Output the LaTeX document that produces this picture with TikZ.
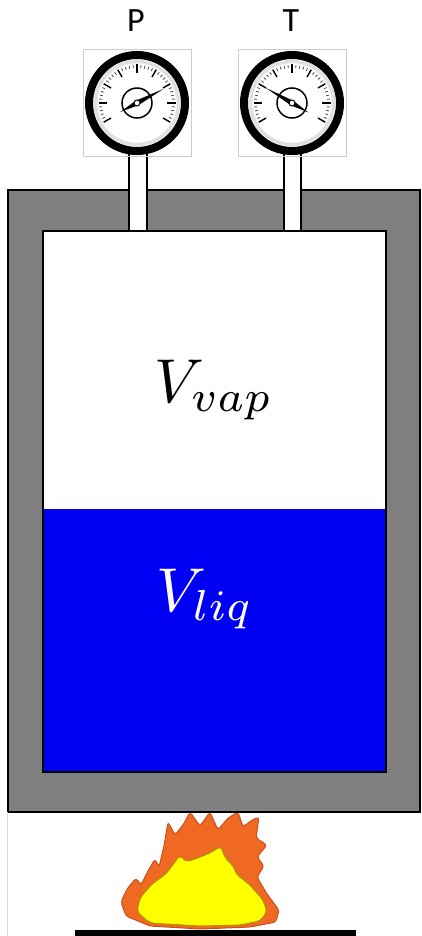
\documentclass[tikz,border=0pt]{standalone}
\usepackage{fontspec}
\newfontfamily\labelfont{Carlito}
\usetikzlibrary{calc}
\definecolor{wallgray}{RGB}{127,127,127}
\definecolor{liquid}{RGB}{0,0,245}
\definecolor{flamedark}{RGB}{240,105,35}
\definecolor{flamerim}{RGB}{200,80,30}
\definecolor{flamemid}{RGB}{247,148,29}
\definecolor{flamecore}{RGB}{255,255,0}
\definecolor{corerim}{RGB}{170,150,0}
\newcommand{\volsym}[1]{\scalebox{6.2}{$V_{#1}$}}
\tikzset {
    wall/.style = {fill = wallgray, draw = black, line width = 2pt},
    chamber/.style = {draw = black, line width = 1.6pt},
    stem/.style = {fill = white, draw = black, line width = 2pt},
    gauge frame/.style = {draw = black!20, line width = 0.8pt},
    gauge label/.style = {font = \labelfont\fontsize{34}{34}\selectfont},
    volume label/.style = {inner sep = 0pt},
    flame/.style = {rounded corners = 3pt, line width = 1pt},
    %
    gauge/.pic = {
        \draw [gauge frame] (-54, -53.5) rectangle (54, 53.5);
        \begin{scope}[yscale = -1]
            \fill [white] (0, 0) circle (44);
            \draw [black!12, line width = 3.5pt] (0, 0) circle (41.5);
            \draw [line width = 8pt] (0, 0) circle (48);
            \foreach \a in {-30, -24, ..., 210}
                \draw [black!70, line width = 0.8pt] (\a:35) -- (\a:38);
            \foreach \a in {-30, 0, ..., 210}
                \draw [line width = 1.4pt] (\a:30) -- (\a:38.5);
            \draw [line width = 1.5pt] (0, 0) circle (15);
            \fill (#1:30) -- ({#1 + 90}:2.6) -- ({#1 + 180}:19)
                -- ({#1 - 90}:2.6) -- cycle;
            \filldraw [fill = white, line width = 1pt] (0, 0) circle (3);
        \end{scope}
    }
}

\begin{document}
\begin{tikzpicture}[x = 1pt, y = -1pt]
    \useasboundingbox (0, 0) rectangle (421, 936);

    % vessel wall and gauge stems
    \draw [wall] (8, 190) rectangle (420, 812);
    \draw [stem] (129, 150) rectangle (147, 231);
    \draw [stem] (284, 150) rectangle (301, 231);

    % vapour above the liquid
    \fill [white] (43, 231) rectangle (386, 509);
    \fill [liquid] (43, 509) rectangle (386, 772);
    \draw [chamber] (43, 231) rectangle (386, 772);

    \node [volume label] (vap) at (214, 390) {\volsym{vap}};
    \node [volume label, text = white] (liq) at (205, 599) {\volsym{liq}};

    % gauges
    \pic (pgauge) at (137, 103) {gauge = 28};
    \pic (tgauge) at (292, 103) {gauge = 150};
    \node [gauge label] (plabel) at (136, 21) {P};
    \node [gauge label] (tlabel) at (291, 21) {T};

    % burner and flame
    \draw [black!15, line width = 1pt] (7.5, 812) -- (7.5, 936);
    \coordinate (fbase) at (200, 929);
    \draw [flame, fill = flamedark, draw = flamerim]
        (200, 929) -- (150, 926) -- (126, 916) -- (121, 902) -- (127, 889)
        -- (136, 878) -- (141, 885) -- (148, 871) -- (155, 859) -- (159, 867)
        -- (164, 846) -- (168, 822) -- (175, 835) -- (183, 825) -- (190, 812)
        -- (200, 826) -- (210, 812) -- (218, 830) -- (228, 818) -- (238, 812)
        -- (243, 827) -- (252, 820) -- (259, 817) -- (256, 838) -- (267, 845)
        -- (257, 857) -- (264, 866) -- (257, 877) -- (267, 894) -- (279, 910)
        -- (276, 922) -- (250, 927) -- cycle;
    \begin{scope}[shift = {(fbase)}, xscale = 0.96, yscale = 0.93,
            shift = {($-1*(fbase)$)}]
        \draw [flame, fill = flamemid, draw = flamerim!80]
            (200, 929) -- (150, 926) -- (126, 916) -- (121, 902) -- (127, 889)
            -- (136, 878) -- (141, 885) -- (148, 871) -- (155, 859) -- (159, 867)
            -- (164, 846) -- (168, 822) -- (175, 835) -- (183, 825) -- (190, 812)
            -- (200, 826) -- (210, 812) -- (218, 830) -- (228, 818) -- (238, 812)
            -- (243, 827) -- (252, 820) -- (259, 817) -- (256, 838) -- (267, 845)
            -- (257, 857) -- (264, 866) -- (257, 877) -- (267, 894) -- (279, 910)
            -- (276, 922) -- (250, 927) -- cycle;
    \end{scope}
    \draw [flame, rounded corners = 4pt, fill = flamecore, draw = corerim]
        (200, 926) -- (150, 923) -- (137, 912) -- (140, 898) -- (152, 884)
        -- (166, 874) -- (172, 866) -- (180, 855) -- (186, 862) -- (198, 858)
        -- (212, 852) -- (221, 846) -- (224, 856) -- (229, 862) -- (234, 867)
        -- (236, 874) -- (250, 885) -- (263, 900) -- (267, 912) -- (260, 921)
        -- (240, 925) -- cycle;
    \fill (75, 930) rectangle (356, 936);
\end{tikzpicture}
\end{document}
